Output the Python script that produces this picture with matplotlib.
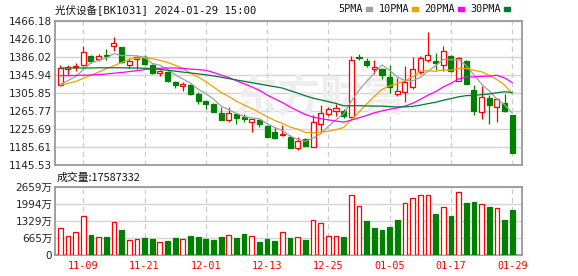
import matplotlib.pyplot as plt
from matplotlib.patches import Rectangle
import numpy as np

# trading days shown (MM-DD), 2023-11-06 .. 2024-01-29
dates = ['11-06', '11-07', '11-08', '11-09', '11-10', '11-13', '11-14', '11-15', '11-16', '11-17',
         '11-20', '11-21', '11-22', '11-23', '11-24', '11-27', '11-28', '11-29', '11-30', '12-01',
         '12-04', '12-05', '12-06', '12-07', '12-08', '12-11', '12-12', '12-13', '12-14', '12-15',
         '12-18', '12-19', '12-20', '12-21', '12-22', '12-25', '12-26', '12-27', '12-28', '12-29',
         '01-02', '01-03', '01-04', '01-05', '01-08', '01-09', '01-10', '01-11', '01-12', '01-15',
         '01-16', '01-17', '01-18', '01-19', '01-22', '01-23', '01-24', '01-25', '01-26', '01-29']

opens = [1323, 1359, 1362.5, 1366.7, 1388.2, 1380.1, 1390.5, 1409, 1407.5, 1366.7,
         1380.1, 1385.3, 1366.7, 1350.4, 1351.9, 1330.4, 1322.2, 1323.7, 1303.6, 1288.1,
         1281.4, 1262.1, 1245, 1258.4, 1253.2, 1240.6, 1245, 1232.4, 1218.3, 1211.6,
         1207.2, 1183.5, 1203.5, 1186.4, 1236.1, 1258.4, 1266.5, 1266.5, 1253.2, 1385.3,
         1377.1, 1358.5, 1358.5, 1340, 1304.4, 1308.8, 1318.5, 1351.9, 1378.6, 1377.1,
         1366.7, 1388.2, 1332.6, 1377.1, 1312.5, 1264.3, 1294, 1274, 1282.9, 1256.9]
highs = [1368, 1367, 1371, 1409, 1390, 1392, 1403.8, 1429.8, 1408.5, 1383,
         1387.5, 1389, 1369.7, 1357, 1354.8, 1333.3, 1328.9, 1325.9, 1307.4, 1289,
         1283, 1275.5, 1274, 1260, 1258.4, 1248.5, 1248, 1234.6, 1229.5, 1234.6,
         1212.4, 1208.7, 1207, 1256.9, 1279.2, 1275.5, 1280.6, 1269.5, 1387.5, 1391.9,
         1383, 1379.3, 1360.8, 1368.2, 1338.5, 1364.5, 1385.3, 1386.8, 1440.2, 1394.2,
         1410.5, 1389, 1385.3, 1377.8, 1323.7, 1321.5, 1301.4, 1294, 1303.6, 1258]
lows = [1322, 1345, 1355, 1364.5, 1372, 1375.6, 1379.3, 1399.4, 1372, 1360.8,
        1359.3, 1368, 1347.4, 1343.7, 1328.9, 1317.7, 1311.1, 1301.4, 1280.6, 1270.3,
        1263, 1245, 1240.6, 1237.6, 1240.6, 1219.8, 1230.9, 1208, 1203.5, 1211,
        1184, 1179, 1188, 1185, 1219.8, 1254.7, 1255.4, 1251, 1249.5, 1377.8,
        1362.3, 1347.4, 1337, 1305.1, 1299.2, 1286.6, 1314, 1347.4, 1373.4, 1357.1,
        1353.4, 1353, 1331.1, 1325, 1256.9, 1248, 1236.9, 1242, 1264.3, 1172]
closes = [1361, 1364, 1366, 1396.4, 1375.6, 1388.2, 1387.5, 1416.5, 1374.1, 1377.1,
          1384.5, 1370.5, 1349.6, 1354.8, 1331.1, 1323.5, 1324.5, 1303.6, 1288.1, 1281.4,
          1264.3, 1245.8, 1261.4, 1249.5, 1247, 1248, 1236.1, 1208.7, 1205, 1215.3,
          1184.9, 1200, 1188.6, 1240.6, 1260.6, 1269.5, 1271.7, 1255.4, 1379.3, 1383,
          1366.7, 1363.7, 1345.9, 1320, 1309.6, 1329.6, 1358.5, 1383, 1389, 1371.2,
          1397.9, 1354.8, 1383, 1326.6, 1266.5, 1296.2, 1279.2, 1291.8, 1266.5, 1173.1]

# volume in 万
vols = [1041, 732, 887, 1503, 771, 694, 707, 1272, 977, 578,
        617, 668, 630, 501, 553, 668, 617, 745, 707, 630,
        591, 707, 771, 668, 822, 732, 514, 630, 553, 890,
        668, 694, 565, 1362, 1246, 732, 732, 707, 2326, 1902,
        1324, 1054, 977, 1092, 1362, 2005, 2236, 2326, 2326, 1593,
        1850, 1516, 2467, 2017, 2056, 1979, 1863, 1812, 1362, 1758.7332]

ma5 = [1325, 1333, 1342, 1357, 1372.6, 1378.0, 1382.7, 1392.8, 1388.4, 1388.7,
       1387.9, 1384.5, 1371.2, 1367.3, 1358.1, 1345.9, 1336.7, 1327.5, 1314.2, 1304.2,
       1292.4, 1276.6, 1268.2, 1260.5, 1253.6, 1250.3, 1248.4, 1237.9, 1229.0, 1222.6,
       1210.0, 1202.8, 1198.8, 1205.9, 1214.9, 1231.9, 1246.2, 1259.6, 1287.3, 1311.8,
       1331.2, 1349.6, 1367.7, 1355.9, 1341.2, 1333.8, 1332.7, 1340.1, 1353.9, 1366.3,
       1379.9, 1379.2, 1379.2, 1366.7, 1345.8, 1325.4, 1310.3, 1292.1, 1280.0, 1261.4]
ma10 = [1323, 1327, 1331, 1338, 1345, 1352, 1359, 1366, 1373, 1380.6,
        1383.0, 1383.6, 1382.0, 1377.8, 1373.4, 1366.9, 1360.6, 1349.3, 1340.7, 1331.2,
        1319.1, 1306.7, 1297.9, 1287.3, 1278.9, 1271.4, 1262.5, 1253.0, 1244.7, 1238.1,
        1230.2, 1225.6, 1218.3, 1217.4, 1218.8, 1220.9, 1224.5, 1229.2, 1246.6, 1263.4,
        1281.5, 1297.9, 1313.6, 1321.6, 1326.5, 1332.5, 1341.2, 1353.9, 1354.9, 1353.7,
        1356.8, 1356.0, 1359.7, 1360.3, 1356.0, 1352.7, 1344.7, 1335.6, 1323.4, 1303.6]
ma20 = [1344, 1344, 1344.5, 1345, 1345.5, 1346.5, 1347.5, 1349.5, 1351, 1353,
        1355, 1357.5, 1359.5, 1360.5, 1361, 1361, 1360, 1358.5, 1357.5, 1355.9,
        1351.1, 1345.2, 1339.9, 1332.6, 1326.2, 1319.1, 1311.6, 1301.2, 1292.7, 1284.6,
        1274.7, 1266.1, 1258.1, 1252.4, 1248.8, 1246.1, 1243.5, 1241.1, 1245.7, 1250.7,
        1255.9, 1261.8, 1266.0, 1269.5, 1272.6, 1276.7, 1282.8, 1291.5, 1300.7, 1308.5,
        1319.2, 1326.9, 1336.7, 1341.0, 1341.2, 1342.6, 1343.0, 1344.8, 1339.1, 1328.6]
ma30 = [1361, 1361, 1361, 1361, 1361, 1361.5, 1361.5, 1361.5, 1361.5, 1361,
        1361, 1360.5, 1359.5, 1358, 1356, 1354, 1352, 1350, 1348, 1346,
        1343.5, 1340.5, 1337.5, 1334.5, 1331.5, 1328.5, 1325.5, 1322.5, 1319.5, 1316.6,
        1310.8, 1305.3, 1299.4, 1294.2, 1290.4, 1286.4, 1282.5, 1277.2, 1277.3, 1277.5,
        1277.0, 1276.7, 1276.6, 1275.4, 1274.7, 1274.9, 1276.1, 1278.7, 1282.1, 1285.1,
        1289.5, 1293.2, 1297.2, 1299.8, 1300.4, 1302.0, 1303.5, 1306.2, 1308.3, 1306.9]

price_ticks = [1145.53, 1185.61, 1225.69, 1265.77, 1305.85, 1345.94, 1386.02, 1426.10, 1466.18]
vol_ticks = [0, 665, 1329, 1994, 2659]
ma_names = ['5PMA', '10PMA', '20PMA', '30PMA']
ma_colors = ['#a0a0a0', '#f0a000', '#ff00ff', '#007a33']

RED, GREEN = '#ff0000', '#008000'
CJK = ['DejaVu Sans', 'Noto Sans CJK SC']
MONO = ['DejaVu Sans Mono', 'Noto Sans CJK SC']

W, H = 578, 276
fig = plt.figure(figsize=(W / 100, H / 100), dpi=100)


def box(l, t, r, b):
    return [l / W, 1 - b / H, (r - l) / W, (b - t) / H]


ax = fig.add_axes(box(55, 20.5, 522, 165.3))
axv = fig.add_axes(box(55, 186.7, 522, 255))

x = np.arange(len(closes))
o, hi, lo, c = (np.array(a, dtype=float) for a in (opens, highs, lows, closes))
up = c >= o
col = np.where(up, RED, GREEN)

# candles
ax.vlines(x, lo, hi, colors=col, lw=0.9, zorder=3)
ax.bar(x, np.maximum(np.abs(c - o), 0.9), bottom=np.minimum(o, c), width=0.66,
       color=np.where(up, 'white', GREEN), edgecolor=col, lw=0.9, zorder=4)

for vals, cl in zip([ma5, ma10, ma20, ma30], ma_colors):
    ax.plot(x, vals, color=cl, lw=0.9, zorder=5)

ax.text(34, 1292, '东方财富', family=CJK, fontsize=31, fontweight='bold',
        color='#eeeeee', ha='center', va='center', zorder=1)

# volume, coloured by change against previous close
vup = np.concatenate([[up[0]], c[1:] >= c[:-1]])
vcol = np.where(vup, RED, GREEN)
axv.bar(x, vols, width=0.62, color=np.where(vup, 'white', GREEN),
        edgecolor=vcol, lw=0.9, zorder=3)

tick_idx = list(range(3, len(dates), 8))
for a in (ax, axv):
    a.set_xlim(-0.69, len(dates) + 0.28)
    a.set_xticks(tick_idx)
    a.xaxis.grid(True, color='#cccccc', ls=(0, (4, 3)), lw=0.9)
    a.yaxis.grid(True, color='#d4d4d4', lw=1)
    a.set_axisbelow(True)
    a.tick_params(length=0, pad=2, labelsize=7.5, colors='#222222')
    for s in a.spines.values():
        s.set_color('#999999')
        s.set_linewidth(1.3)

ax.set_ylim(price_ticks[0], price_ticks[-1])
ax.set_yticks(price_ticks)
ax.set_yticklabels([f'{v:.2f}' for v in price_ticks])
ax.tick_params(labelbottom=False)

axv.set_ylim(vol_ticks[0], vol_ticks[-1])
axv.set_yticks(vol_ticks)
axv.set_yticklabels([str(v) if v == 0 else f'{v}万' for v in vol_ticks], family=CJK)
axv.set_xticklabels([dates[i] for i in tick_idx], family=MONO, color=RED, fontsize=7.3)
axv.tick_params(axis='x', pad=4, labelcolor=RED)

# header texts
fig.text(55 / W, 1 - 9.5 / H, '光伏设备[BK1031] 2024-01-29 15:00', family=MONO,
         fontsize=7.6, color='#111111', va='center')
fig.text(57 / W, 1 - 177.5 / H, f'成交量:{vols[-1] * 10000:.0f}', family=['Noto Sans CJK SC'],
         fontsize=7.8, color='#111111', va='center')

name_right = [363, 409, 455, 501]
for name, cl, xr in zip(ma_names, ma_colors, name_right):
    fig.text(xr / W, 1 - 9.5 / H, name, family=MONO, fontsize=7.3, color='#111111',
             ha='right', va='center')
    fig.patches.append(Rectangle(((xr + 3) / W, 1 - 11 / H), 6 / W, 4.5 / H,
                                 transform=fig.transFigure, color=cl))

fig.savefig('out.png', dpi=100)
